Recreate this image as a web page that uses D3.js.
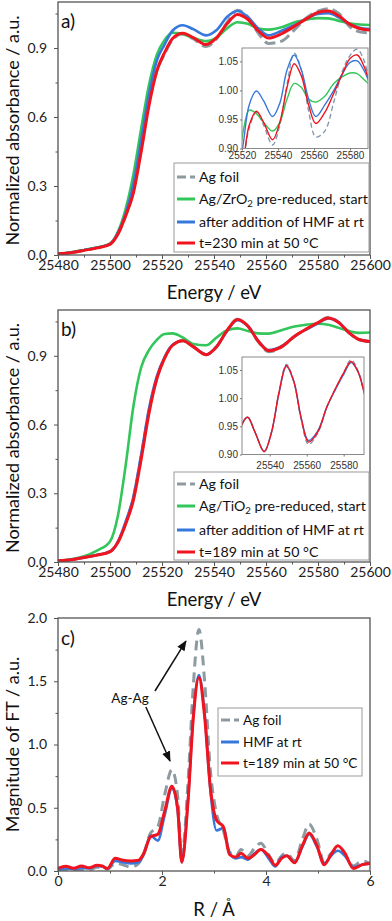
<!DOCTYPE html>
<html>
<head>
<meta charset="utf-8">
<script src="https://cdn.jsdelivr.net/npm/d3@7"></script>
<style>
body{margin:0;background:#fff;}
svg{display:block;font-family:Lato,"Open Sans",sans-serif;}
</style>
</head>
<body>
<svg id="chart" width="392" height="921"></svg>
<script>

// ---- data ----
var energy = [25480,25485,25490,25495,25500,25503,25506,25509,25512,25515,25518,25521,25524,25528,25532,25537,25541,25545,25549,25553,25557,25561,25566,25571,25576,25580,25584,25588,25592,25596,25600];

// panel a : Ag/ZrO2
var foil_a     = [0.005,0.01,0.02,0.032,0.048,0.09,0.17,0.28,0.46,0.66,0.80,0.875,0.935,0.962,0.94,0.906,0.94,1.01,1.064,1.035,0.965,0.92,0.93,0.98,1.035,1.06,1.071,1.05,0.995,0.97,0.965];
var zro2_start = [0.005,0.012,0.022,0.033,0.05,0.10,0.20,0.35,0.55,0.74,0.87,0.935,0.966,0.96,0.945,0.93,0.945,0.985,1.012,1.005,0.985,0.98,0.99,1.012,1.024,1.03,1.029,1.018,1.008,1.002,1.0];
var zro2_hmf   = [0.005,0.011,0.021,0.032,0.048,0.095,0.18,0.31,0.50,0.70,0.845,0.915,0.975,0.999,0.982,0.955,0.978,1.035,1.061,1.035,0.985,0.955,0.975,1.0,1.03,1.048,1.051,1.033,1.005,0.988,0.982];
var zro2_230   = [0.005,0.01,0.02,0.031,0.046,0.09,0.17,0.27,0.45,0.65,0.80,0.88,0.94,0.964,0.945,0.915,0.945,1.005,1.046,1.025,0.975,0.943,0.962,0.995,1.03,1.055,1.061,1.04,1.005,0.985,0.978];

// panel b : Ag/TiO2
var foil_b     = [0.005,0.01,0.02,0.031,0.045,0.085,0.17,0.28,0.46,0.66,0.80,0.89,0.945,0.966,0.94,0.905,0.94,1.01,1.06,1.03,0.962,0.918,0.938,0.985,1.02,1.045,1.068,1.047,1.0,0.97,0.962];
var tio2_start = [0.005,0.012,0.025,0.05,0.09,0.20,0.42,0.68,0.85,0.925,0.97,0.995,0.998,0.98,0.952,0.946,0.98,1.012,1.02,1.008,0.998,0.997,1.012,1.028,1.037,1.04,1.036,1.022,1.008,1.0,1.002];
var tio2_hmf   = [0.005,0.01,0.02,0.031,0.046,0.088,0.175,0.285,0.47,0.67,0.81,0.895,0.947,0.966,0.94,0.906,0.94,1.008,1.056,1.03,0.965,0.925,0.942,0.985,1.018,1.042,1.063,1.045,1.0,0.97,0.962];
var tio2_189   = [0.005,0.01,0.02,0.03,0.045,0.085,0.165,0.27,0.45,0.65,0.80,0.89,0.945,0.966,0.94,0.905,0.94,1.01,1.058,1.03,0.965,0.922,0.94,0.985,1.02,1.045,1.065,1.045,1.0,0.97,0.962];

// panel c : FT magnitude
var r_dist  = [0,0.15,0.3,0.45,0.6,0.75,0.85,0.95,1.1,1.25,1.4,1.55,1.65,1.78,1.92,2.05,2.19,2.3,2.38,2.5,2.6,2.71,2.82,2.93,3.05,3.18,3.3,3.42,3.52,3.65,3.78,3.9,4.05,4.18,4.3,4.4,4.55,4.7,4.83,4.98,5.12,5.25,5.38,5.52,5.68,5.85,6.0];
var ft_foil = [0.0,0.01,0.005,0.012,0.008,0.03,0.03,0.015,0.06,0.05,0.03,0.06,0.14,0.30,0.35,0.60,0.80,0.60,0.12,0.70,1.45,1.91,1.50,0.80,0.45,0.32,0.15,0.12,0.17,0.12,0.18,0.22,0.13,0.06,0.12,0.14,0.08,0.25,0.37,0.25,0.07,0.14,0.17,0.12,0.04,0.08,0.06];
var ft_hmf  = [0.01,0.02,0.015,0.025,0.02,0.04,0.035,0.02,0.08,0.07,0.06,0.07,0.13,0.28,0.24,0.44,0.65,0.48,0.07,0.56,1.22,1.55,1.24,0.64,0.32,0.34,0.14,0.10,0.11,0.09,0.14,0.17,0.10,0.035,0.11,0.12,0.07,0.19,0.29,0.19,0.06,0.12,0.16,0.12,0.03,0.05,0.06];
var ft_189  = [0.02,0.037,0.022,0.04,0.025,0.045,0.04,0.02,0.10,0.085,0.08,0.085,0.14,0.27,0.29,0.47,0.67,0.50,0.07,0.55,1.20,1.53,1.22,0.66,0.40,0.35,0.13,0.11,0.14,0.10,0.13,0.17,0.12,0.045,0.10,0.12,0.065,0.20,0.30,0.20,0.05,0.13,0.20,0.14,0.02,0.05,0.06];

// ticks
var e_ticks = [25480,25500,25520,25540,25560,25580,25600];
var e_minor = [25490,25510,25530,25550,25570,25590];
var abs_ticks = [0,0.3,0.6,0.9];
var abs_minor = [0.15,0.45,0.75,1.05];
var inset_y_ticks = [0.90,0.95,1.00,1.05];
var inset_a_x_ticks = [25520,25540,25560,25580];
var inset_b_x_ticks = [25540,25560,25580];
var r_ticks = [0,2,4,6];
var r_minor = [1,3,5];
var ft_ticks = [0,0.5,1.0,1.5,2.0];
var ft_minor = [0.25,0.75,1.25,1.75];

var col_foil="#8d9aa0", col_green="#33c65a", col_blue="#3778dc", col_red="#f0141e";

var svg = d3.select("#chart");
var defs = svg.append("defs");

defs.append("marker").attr("id","arrow")
	.attr("viewBox","0 0 10 10").attr("refX",9).attr("refY",5)
	.attr("markerWidth",7).attr("markerHeight",7).attr("orient","auto")
	.append("path").attr("d","M0,1 L10,5 L0,9 Z").attr("fill","#111");

var X0=58, X1=370;

function styleAxis(g, size)
{
	g.select(".domain").remove();
	g.selectAll("line").attr("stroke","#555");
	g.selectAll("text").attr("font-size",size).attr("fill","#222")
		.attr("font-family","Lato, 'Open Sans', sans-serif");
}

function drawFrame(x, y, top, bottom, xt, xm, yt, ym, xfmt, yfmt)
{
	var g = svg.append("g");
	var gx = g.append("g").attr("transform","translate(0,"+bottom+")")
		.call(d3.axisBottom(x).tickValues(xt).tickSize(4).tickPadding(1).tickFormat(xfmt));
	styleAxis(gx, 14);
	var gxm = g.append("g").attr("transform","translate(0,"+bottom+")")
		.call(d3.axisBottom(x).tickValues(xm).tickSize(2.5).tickFormat(""));
	styleAxis(gxm, 1);
	var gy = g.append("g").attr("transform","translate("+X0+",0)")
		.call(d3.axisLeft(y).tickValues(yt).tickSize(4).tickPadding(7).tickFormat(yfmt));
	styleAxis(gy, 14);
	var gym = g.append("g").attr("transform","translate("+X0+",0)")
		.call(d3.axisLeft(y).tickValues(ym).tickSize(2.5).tickFormat(""));
	styleAxis(gym, 1);
	return g;
}

function addLines(g, clipId, xs, x, y, series, curve)
{
	var line = d3.line()
		.x(function(d,i){return x(xs[i])})
		.y(function(d){return y(d)})
		.curve(curve || d3.curveMonotoneX);
	var lg = g.append("g").attr("clip-path","url(#"+clipId+")");
	series.forEach(function(s)
	{
		lg.append("path").attr("d", line(s.values))
			.attr("fill","none")
			.attr("stroke", s.color)
			.attr("stroke-width", s.w)
			.attr("stroke-linecap", s.dash ? "butt" : "round")
			.attr("stroke-dasharray", s.dash || null);
	});
}

function addClip(id, x, y, w, h)
{
	defs.append("clipPath").attr("id",id).append("rect")
		.attr("x",x).attr("y",y).attr("width",w).attr("height",h);
}

function addLegend(box, items)
{
	var g = svg.append("g");
	g.append("rect").attr("x",box.x).attr("y",box.y).attr("width",box.w).attr("height",box.h)
		.attr("fill","#fff").attr("stroke","#9a9a9a").attr("stroke-width",1);
	items.forEach(function(it, i)
	{
		var yy = box.rows[i];
		g.append("line").attr("x1",box.x+3).attr("x2",box.x+21).attr("y1",yy).attr("y2",yy)
			.attr("stroke",it.color).attr("stroke-width",it.w)
			.attr("stroke-dasharray", it.dash ? "9,4" : null);
		var t = g.append("text").attr("x",box.x+25).attr("y",yy+4.8)
			.attr("font-size",box.fs).attr("fill","#111");
		// "_2" marks a subscript
		var parts = it.label.split("_2");
		if (parts.length > 1)
		{
			t.append("tspan").text(parts[0]);
			t.append("tspan").text("2").attr("font-size",box.fs*0.68).attr("dy",3);
			t.append("tspan").text(parts[1]).attr("dy",-3);
		}
		else t.text(it.label);
	});
}

function drawInset(ins, series)
{
	var x = d3.scaleLinear().domain(ins.xdom).range([ins.left, ins.right]);
	var y = d3.scaleLinear().domain([0.9, 1.073]).range([ins.bottom, ins.top]);
	var g = svg.append("g");
	g.append("rect").attr("x",ins.left).attr("y",ins.top)
		.attr("width",ins.right-ins.left).attr("height",ins.bottom-ins.top).attr("fill","#fff");
	addClip(ins.id, ins.left, ins.top, ins.right-ins.left, ins.bottom-ins.top);
	addLines(g, ins.id, energy, x, y, series, d3.curveCatmullRom);
	g.append("rect").attr("x",ins.left).attr("y",ins.top)
		.attr("width",ins.right-ins.left).attr("height",ins.bottom-ins.top)
		.attr("fill","none").attr("stroke","#8a8a8a").attr("stroke-width",1);
	var gx = g.append("g").attr("transform","translate(0,"+ins.bottom+")")
		.call(d3.axisBottom(x).tickValues(ins.xt).tickSize(2).tickPadding(ins.pad).tickFormat(d3.format("d")));
	var gy = g.append("g").attr("transform","translate("+ins.left+",0)")
		.call(d3.axisLeft(y).tickValues(inset_y_ticks).tickSize(2).tickPadding(2).tickFormat(d3.format(".2f")));
	[gx,gy].forEach(function(a)
	{
		a.select(".domain").remove();
		a.selectAll("line").attr("stroke","#777");
		a.selectAll("text").attr("font-size",10).attr("fill","#333")
			.attr("font-family","'Liberation Sans', Arial, sans-serif");
	});
}

function drawXanes(p)
{
	var x = d3.scaleLinear().domain([25480,25600]).range([X0,X1]);
	var y = d3.scaleLinear().domain([0,1.1]).range([p.bottom,p.top]);
	var g = drawFrame(x, y, p.top, p.bottom, e_ticks, e_minor, abs_ticks, abs_minor, d3.format("d"), d3.format(".1f"));

	addClip(p.clip, X0, p.top, X1-X0, p.bottom-p.top);
	addLines(g, p.clip, energy, x, y, p.series);

	g.append("rect").attr("x",X0).attr("y",p.top).attr("width",X1-X0).attr("height",p.bottom-p.top)
		.attr("fill","none").attr("stroke","#555").attr("stroke-width",1.3);

	g.append("text").attr("x",61).attr("y",p.top+26).attr("font-size",19).attr("fill","#111").text(p.label);

	g.append("text").attr("x",(X0+X1)/2).attr("y",p.bottom+44).attr("text-anchor","middle")
		.attr("font-size",18.5).attr("fill","#111").text("Energy / eV");
	g.append("text").attr("transform","translate(19,"+((p.top+p.bottom)/2+2)+") rotate(-90)")
		.attr("text-anchor","middle").attr("font-size",18).attr("fill","#111")
		.text("Normalized absorbance / a.u.");

	drawInset(p.inset, p.insetSeries);
	addLegend(p.legend, p.series.map(function(s, i){ return {label:p.names[i], color:s.color, w:3, dash:s.dash}; }));
}

// ---- panel a ----
drawXanes({
	top:2, bottom:255, clip:"clipA", label:"a)",
	series:[
		{values:foil_a, color:col_foil, w:3, dash:"11,5"},
		{values:zro2_start, color:col_green, w:2.6},
		{values:zro2_hmf, color:col_blue, w:2.6},
		{values:zro2_230, color:col_red, w:3}
	],
	insetSeries:[
		{values:foil_a, color:"#7f93a8", w:1.3, dash:"5,3"},
		{values:zro2_start, color:col_green, w:1.4},
		{values:zro2_hmf, color:col_blue, w:1.4},
		{values:zro2_230, color:col_red, w:1.4}
	],
	names:["Ag foil","Ag/ZrO_2 pre-reduced, start","after addition of HMF at rt","t=230 min at 50 \u00b0C"],
	inset:{id:"clipIA", left:242, right:368, top:48, bottom:148.5, xdom:[25520,25590], xt:inset_a_x_ticks, pad:1},
	legend:{x:174, y:163, w:195, h:89, fs:14.2, rows:[177,199,222,243]}
});

// ---- panel b ----  (inset only shows foil / HMF / 189 min)
drawXanes({
	top:310, bottom:562, clip:"clipB", label:"b)",
	series:[
		{values:foil_b, color:col_foil, w:3, dash:"11,5"},
		{values:tio2_start, color:col_green, w:2.6},
		{values:tio2_hmf, color:col_blue, w:2.6},
		{values:tio2_189, color:col_red, w:3}
	],
	insetSeries:[
		{values:foil_b, color:"#7f93a8", w:1.3, dash:"5,3"},
		{values:tio2_hmf, color:col_blue, w:1.4},
		{values:tio2_189, color:col_red, w:1.4}
	],
	names:["Ag foil","Ag/TiO_2 pre-reduced, start","after addition of HMF at rt","t=189 min at 50 \u00b0C"],
	inset:{id:"clipIB", left:242, right:364, top:357, bottom:454.5, xdom:[25525,25591], xt:inset_b_x_ticks, pad:5},
	legend:{x:174, y:472, w:195, h:88, fs:14.2, rows:[484,506,530,552]}
});

// ---- panel c ----
(function()
{
	var top=618, bottom=871;
	var x = d3.scaleLinear().domain([0,6]).range([X0,X1]);
	var y = d3.scaleLinear().domain([0,2]).range([bottom,top]);
	var g = drawFrame(x, y, top, bottom, r_ticks, r_minor, ft_ticks, ft_minor, d3.format("d"), d3.format(".1f"));

	var series = [
		{values:ft_foil, color:col_foil, w:3, dash:"10,6"},
		{values:ft_hmf, color:col_blue, w:2.6},
		{values:ft_189, color:col_red, w:3}
	];
	addClip("clipC", X0, top, X1-X0, bottom-top);
	addLines(g, "clipC", r_dist, x, y, series);

	g.append("rect").attr("x",X0).attr("y",top).attr("width",X1-X0).attr("height",bottom-top)
		.attr("fill","none").attr("stroke","#555").attr("stroke-width",1.3);

	g.append("text").attr("x",61).attr("y",top+27).attr("font-size",19).attr("fill","#111").text("c)");

	// Ag-Ag annotation
	g.append("text").attr("x",x(1.385)).attr("y",y(1.33)).attr("text-anchor","middle")
		.attr("font-size",13.5).attr("fill","#111").text("Ag-Ag");
	g.append("line").attr("x1",x(1.865)).attr("y1",y(1.423)).attr("x2",x(2.46)).attr("y2",y(1.818))
		.attr("stroke","#111").attr("stroke-width",1.5).attr("marker-end","url(#arrow)");
	g.append("line").attr("x1",x(1.69)).attr("y1",y(1.296)).attr("x2",x(2.154)).attr("y2",y(0.87))
		.attr("stroke","#111").attr("stroke-width",1.5).attr("marker-end","url(#arrow)");

	g.append("text").attr("x",(X0+X1)/2).attr("y",bottom+45).attr("text-anchor","middle")
		.attr("font-size",18.5).attr("fill","#111").text("R / \u00c5");
	g.append("text").attr("transform","translate(19,"+((top+bottom)/2)+") rotate(-90)")
		.attr("text-anchor","middle").attr("font-size",18).attr("fill","#111")
		.text("Magnitude of FT / a.u.");

	addLegend({x:218, y:708, w:144, h:68, fs:13.6, rows:[720,742,763]}, [
		{label:"Ag foil", color:col_foil, w:3, dash:true},
		{label:"HMF at rt", color:col_blue, w:3},
		{label:"t=189 min at 50 \u00b0C", color:col_red, w:3}
	]);
})();

</script>
</body>
</html>
